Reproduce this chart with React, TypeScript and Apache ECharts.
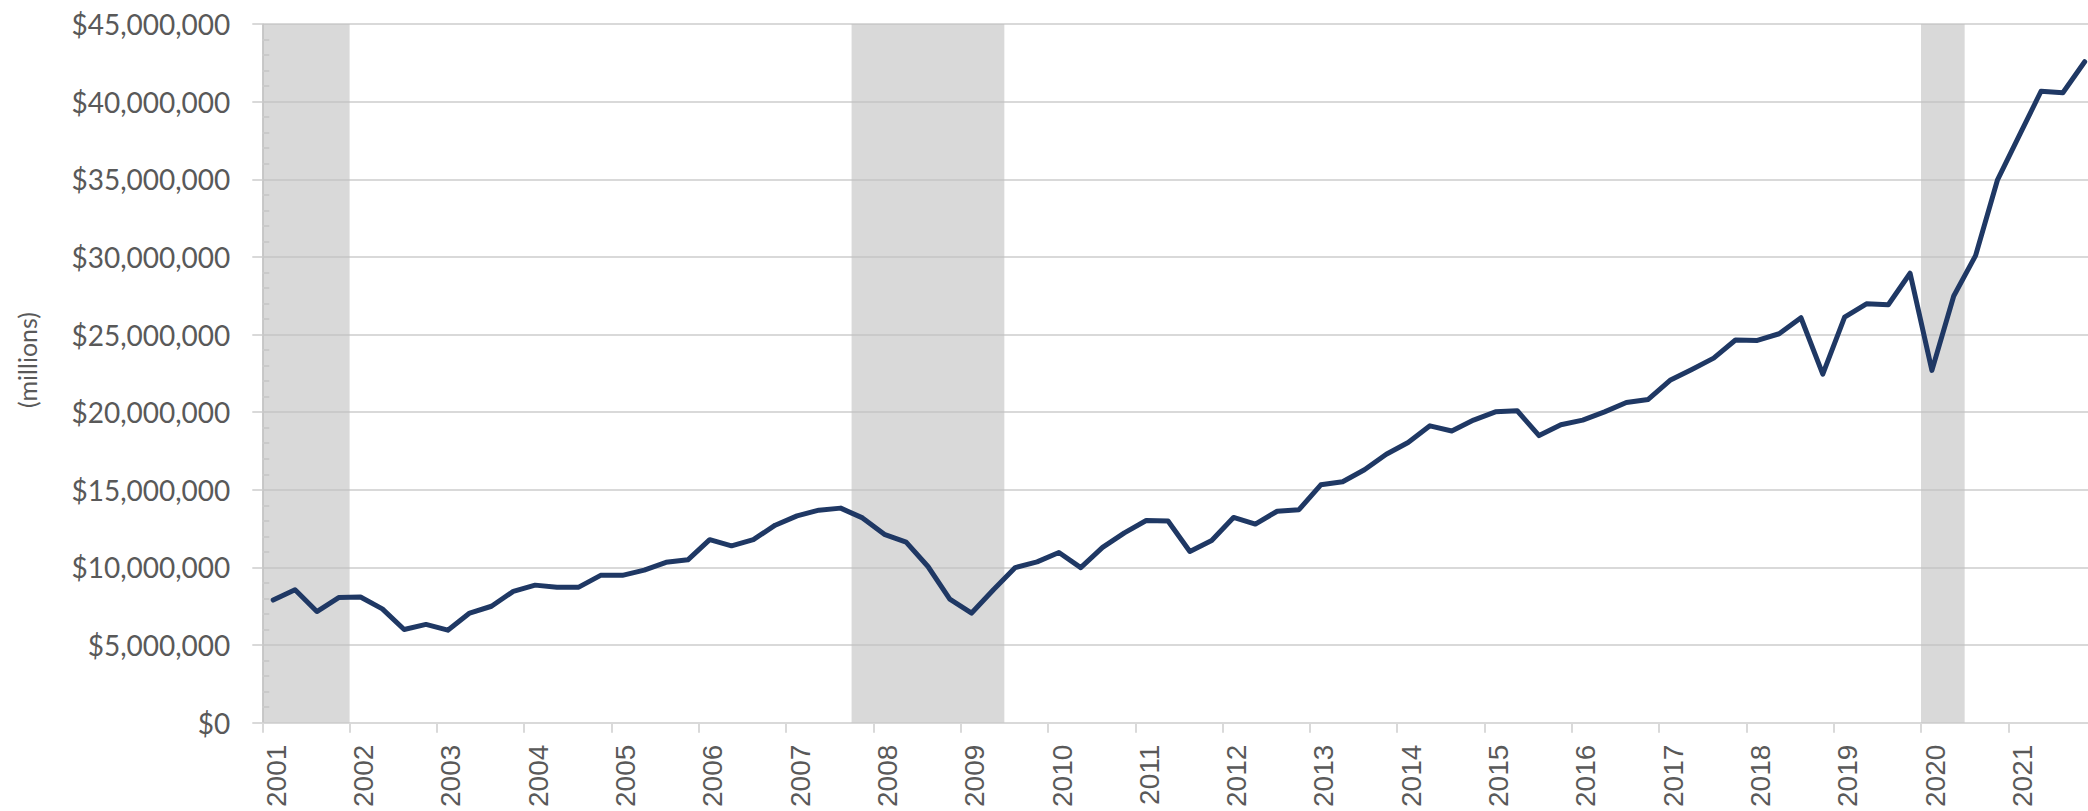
import React, { useEffect, useRef } from "react";
import * as echarts from "echarts";

// Years shown on the axis and the quarterly series (2001 Q1 – 2021 Q4)
const years = [
  2001, 2002, 2003, 2004, 2005, 2006, 2007, 2008, 2009, 2010, 2011,
  2012, 2013, 2014, 2015, 2016, 2017, 2018, 2019, 2020, 2021,
];
const quarterOffsets = [0.125, 0.375, 0.625, 0.875];

const values = [
  7900000, 8560000, 7160000, 8060000,
  8100000, 7330000, 6000000, 6330000,
  5960000, 7060000, 7500000, 8460000,
  8860000, 8730000, 8730000, 9490000,
  9490000, 9830000, 10330000, 10490000,
  11790000, 11390000, 11790000, 12720000,
  13320000, 13690000, 13820000, 13190000,
  12130000, 11630000, 10060000, 7960000,
  7060000, 8560000, 9990000, 10360000,
  10960000, 9990000, 11290000, 12230000,
  13020000, 12990000, 11030000, 11730000,
  13220000, 12790000, 13620000, 13720000,
  15320000, 15520000, 16290000, 17290000,
  18050000, 19120000, 18790000, 19490000,
  20020000, 20090000, 18490000, 19190000,
  19490000, 20020000, 20620000, 20820000,
  22050000, 22750000, 23480000, 24650000,
  24620000, 25050000, 26080000, 22450000,
  26120000, 26980000, 26920000, 28950000,
  22690000, 27480000, 30080000, 34940000,
  37810000, 40670000, 40570000, 42570000,
];

// Recession periods (start, end) in fractional years
const recessionStarts = [2001, 2007.75, 2020];
const recessionEnds = [2002, 2009.5, 2020.5];

const yMin = 0;
const yMax = 45000000;
const yInterval = 5000000;
const axisTitle = "(millions)";

export default function App() {
  const ref = useRef<HTMLDivElement>(null);

  useEffect(() => {
    document.body.style.margin = "0";
    if (!ref.current) return;
    const chart = echarts.init(ref.current, undefined, { renderer: "svg" });

    const xPositions = years.flatMap((y) => quarterOffsets.map((o) => y + o));
    const seriesData = values.map((v, i) => [xPositions[i], v]);
    const bands = recessionStarts.map((s, i) => [
      { xAxis: s },
      { xAxis: recessionEnds[i] },
    ]);

    const labelColor = "#595959";
    const gridColor = "#d9d9d9";

    chart.setOption({
      animation: false,
      backgroundColor: "#ffffff",
      grid: {
        left: 262.3,
        top: 24,
        width: 1833.3,
        height: 698.7,
        containLabel: false,
        outerBoundsMode: "none",
      },
      xAxis: {
        type: "value",
        min: 2001,
        max: 2022,
        interval: 1,
        splitLine: { show: false },
        axisLine: { show: true, lineStyle: { color: gridColor, width: 2 } },
        axisTick: { show: true, length: 10, lineStyle: { color: gridColor, width: 2 } },
        axisLabel: {
          rotate: 90,
          verticalAlign: "top",
          margin: 22,
          color: labelColor,
          fontFamily: "Liberation Sans",
          fontSize: 28,
          showMaxLabel: false,
          formatter: (v: number) => String(v),
        },
      },
      yAxis: [
        {
          type: "value",
          min: yMin,
          max: yMax,
          interval: yInterval,
          axisLine: { show: true, lineStyle: { color: "#d0d0d0", width: 2 } },
          axisTick: { show: true, length: 10, lineStyle: { color: gridColor, width: 2 } },
          splitLine: { show: true, lineStyle: { color: gridColor, width: 2 } },
          axisLabel: {
            margin: 32,
            color: labelColor,
            fontFamily: "Lato",
            fontSize: 28,
            formatter: (v: number) => "$" + v.toLocaleString("en-US"),
          },
        },
        {
          type: "value",
          min: yMin,
          max: yMax,
          interval: yInterval,
          position: "left",
          axisLine: { show: false },
          axisTick: { show: false, inside: true },
          minorTick: {
            show: true,
            splitNumber: 5,
            length: 7,
            lineStyle: { color: gridColor, width: 2 },
          },
          splitLine: { show: false },
          axisLabel: { show: false },
        },
      ],
      graphic: [
        {
          type: "text",
          x: 27,
          y: 360,
          rotation: Math.PI / 2,
          style: {
            text: axisTitle,
            fill: labelColor,
            font: '25px "Lato"',
            align: "center",
            verticalAlign: "middle",
          },
        },
      ],
      series: [
        {
          type: "line",
          data: seriesData,
          yAxisIndex: 0,
          showSymbol: false,
          symbol: "none",
          lineStyle: { color: "#1f3864", width: 5, join: "round", cap: "round" },
          z: 3,
          markArea: {
            silent: true,
            itemStyle: { color: "rgba(191,191,191,0.6)" },
            data: bands,
          },
        },
      ],
    });

    return () => chart.dispose();
  }, []);

  return <div ref={ref} style={{ width: 2088, height: 811 }} />;
}
